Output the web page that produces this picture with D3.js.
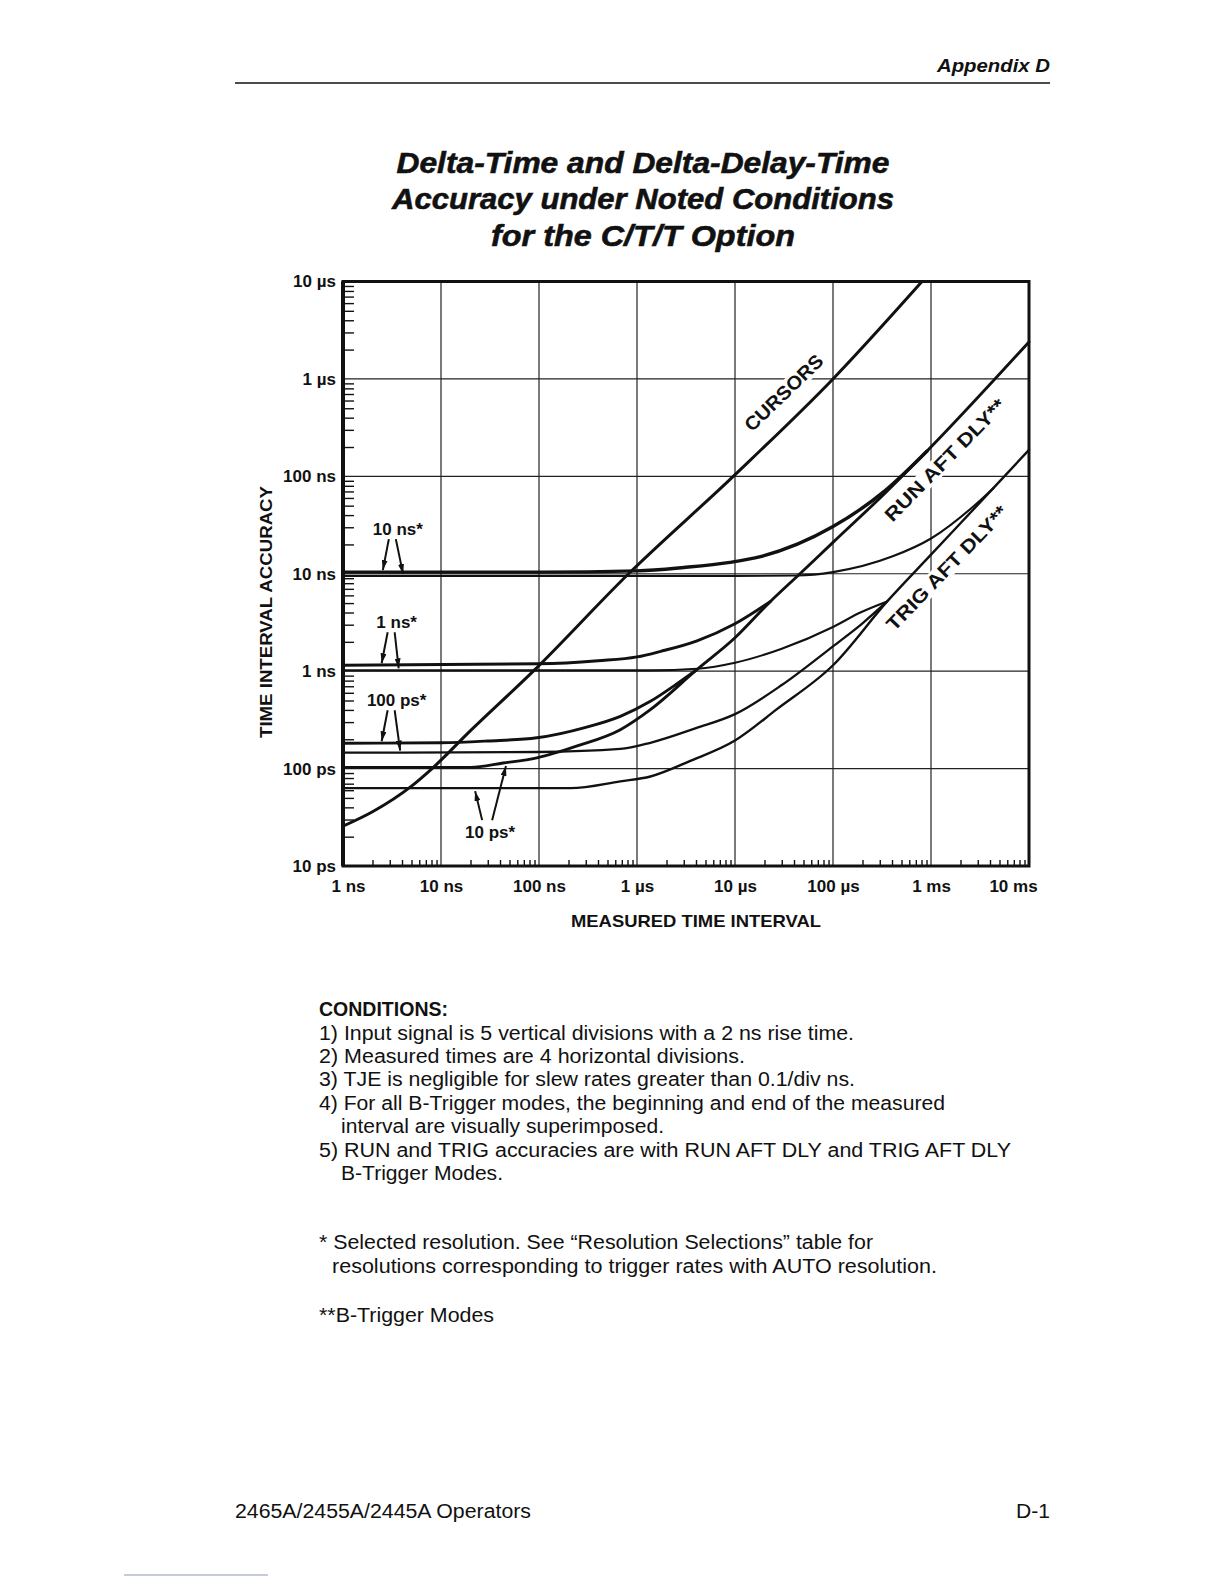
<!DOCTYPE html>
<html>
<head>
<meta charset="utf-8">
<script src="https://cdn.jsdelivr.net/npm/d3@7"></script>
<style>
body { margin: 0; background: #fff; }
svg { display: block; }
text { font-family: "Liberation Sans", Arial, Helvetica, sans-serif; fill: #111; }
</style>
</head>
<body>
<svg id="page" width="1224" height="1584"></svg>
<script>
// axis decades and labels
const xTicks = [1e-9, 1e-8, 1e-7, 1e-6, 1e-5, 1e-4, 1e-3, 1e-2];
const xTickLabels = ["1 ns", "10 ns", "100 ns", "1 µs", "10 µs", "100 µs", "1 ms", "10 ms"];
const yTicks = [1e-11, 1e-10, 1e-9, 1e-8, 1e-7, 1e-6, 1e-5];
const yTickLabels = ["10 ps", "100 ps", "1 ns", "10 ns", "100 ns", "1 µs", "10 µs"];

// curves: measured interval (s) -> accuracy (s)
const cursorsT = [1e-9, 2e-9, 5e-9, 8.1e-9, 20e-9, 87.5e-9, 820e-9, 9.6e-6, 100e-6, 810e-6];
const cursorsV = [25.6e-12, 36e-12, 66e-12, 100e-12, 245e-12, 1e-9, 10e-9, 100e-9, 1e-6, 10e-6];

// 10 ps resolution, RUN AFT DLY
const runT = [1e-9, 20e-9, 43e-9, 95e-9, 250e-9, 676e-9, 1.37e-6, 4.1e-6, 10e-6, 23e-6, 46e-6, 100e-6, 333e-6, 912e-6, 10e-3];
const runV = [103e-12, 103e-12, 114e-12, 129e-12, 172e-12, 251e-12, 403e-12, 1.04e-9, 2.2e-9, 5.2e-9, 10e-9, 21e-9, 66e-9, 182e-9, 2.4e-6];
// 10 ps resolution, TRIG AFT DLY
const trigT = [1e-9, 210e-9, 676e-9, 1.37e-6, 3.5e-6, 10e-6, 27e-6, 100e-6, 357e-6, 1e-3, 4.35e-3, 10e-3];
const trigV = [63e-12, 63e-12, 74e-12, 83e-12, 120e-12, 194e-12, 410e-12, 1.15e-9, 5.2e-9, 15.7e-9, 76e-9, 187e-9];

// 100 ps resolution
const ps100RunT = [1e-9, 10e-9, 30e-9, 95e-9, 300e-9, 676e-9, 1.37e-6, 2.5e-6, 4.1e-6];
const ps100RunV = [182e-12, 184e-12, 192e-12, 207e-12, 265e-12, 344e-12, 490e-12, 730e-12, 1.04e-9];
const ps100TrigT = [1e-9, 4e-9, 100e-9, 676e-9, 1.37e-6, 4e-6, 10e-6, 30e-6, 100e-6, 200e-6, 357e-6];
const ps100TrigV = [146e-12, 146e-12, 148e-12, 159e-12, 184e-12, 260e-12, 362e-12, 720e-12, 1.8e-9, 3.1e-9, 5.2e-9];

// 1 ns resolution
const ns1RunT = [1e-9, 100e-9, 400e-9, 1e-6, 1.75e-6, 4.1e-6, 10e-6, 23e-6];
const ns1RunV = [1.15e-9, 1.19e-9, 1.28e-9, 1.4e-9, 1.6e-9, 2.05e-9, 3.07e-9, 5.2e-9];
const ns1TrigT = [1e-9, 1.37e-6, 4.1e-6, 10e-6, 30e-6, 100e-6, 190e-6, 357e-6];
const ns1TrigV = [1.02e-9, 1.02e-9, 1.06e-9, 1.22e-9, 1.7e-9, 2.84e-9, 4.0e-9, 5.2e-9];

// 10 ns resolution
const ns10RunT = [1e-9, 100e-9, 1e-6, 3e-6, 8.9e-6, 18.2e-6, 100e-6, 333e-6, 912e-6];
const ns10RunV = [10.4e-9, 10.4e-9, 10.7e-9, 11.6e-9, 13.1e-9, 15e-9, 30.5e-9, 70e-9, 182e-9];
const ns10TrigT = [1e-9, 10e-6, 43e-6, 100e-6, 400e-6, 1e-3, 2.7e-3, 4.35e-3];
const ns10TrigV = [9.5e-9, 9.5e-9, 9.6e-9, 10.4e-9, 15e-9, 23e-9, 49e-9, 76e-9];

// curve labels (placed in data space)
const curveLabels = ["CURSORS", "RUN AFT DLY**", "TRIG AFT DLY**"];
const curveLabelT = [31.5e-6, 1.39e-3, 1.456e-3];
const curveLabelV = [720e-9, 147e-9, 11.45e-9];

// resolution call-outs: arrow tips sit on the curves
const noteLabels = ["10 ns*", "1 ns*", "100 ps*", "10 ps*"];
const noteTipT = [[2.55e-9, 4.1e-9], [2.48e-9, 3.7e-9], [2.48e-9, 3.83e-9], [22.3e-9, 46e-9]];
const noteTipV = [[10.4e-9, 9.5e-9], [1.15e-9, 1.02e-9], [182e-12, 146e-12], [63e-12, 114e-12]];

const conditionLines = [
    "1) Input signal is 5 vertical divisions with a 2 ns rise time.",
    "2) Measured times are 4 horizontal divisions.",
    "3) TJE is negligible for slew rates greater than 0.1/div ns.",
    "4) For all B-Trigger modes, the beginning and end of the measured",
    "interval are visually superimposed.",
    "5) RUN and TRIG accuracies are with RUN AFT DLY and TRIG AFT DLY",
    "B-Trigger Modes."
];
const footnoteLines = [
    "* Selected resolution. See \u201cResolution Selections\u201d table for",
    "resolutions corresponding to trigger rates with AUTO resolution.",
    "**B-Trigger Modes"
];

const svg = d3.select("#page");
svg.append("rect").attr("width", 1224).attr("height", 1584).attr("fill", "#fff");

const x = d3.scaleLog().domain([1e-9, 1e-2]).range([343, 1029]);
const y = d3.scaleLog().domain([1e-11, 1e-5]).range([866, 281.5]);
const [x0, x1] = x.range();
const [y0, y1] = y.range();

function addText(str, px, py, o = {}) {
    const t = (o.layer || svg).append("text")
        .attr("x", px).attr("y", py)
        .attr("font-size", o.size || 20)
        .attr("font-weight", o.bold ? "bold" : "normal")
        .attr("font-style", o.italic ? "italic" : "normal")
        .attr("text-anchor", o.anchor || "start")
        .attr("dominant-baseline", "central")
        .text(str);
    if (o.width) t.attr("textLength", o.width).attr("lengthAdjust", "spacingAndGlyphs");
    return t;
}

// page header
addText("Appendix D", 1050, 65, {size: 19, bold: true, italic: true, anchor: "end", width: 113});
svg.append("line").attr("x1", 235).attr("x2", 1050).attr("y1", 83).attr("y2", 83)
    .attr("stroke", "#111").attr("stroke-width", 1.6);

// title
const titleLines = ["Delta-Time and Delta-Delay-Time", "Accuracy under Noted Conditions", "for the C/T/T Option"];
const titleWidths = [493, 502, 304];
titleLines.forEach((s, i) => {
    addText(s, 643, 162 + i * 36.5, {size: 30, bold: true, italic: true, anchor: "middle", width: titleWidths[i]})
        .attr("stroke", "#111").attr("stroke-width", 0.6);
});

// layers: grid, label backing, curves, labels
const gridLayer = svg.append("g");
const backLayer = svg.append("g");
const curveLayer = svg.append("g");
const labelLayer = svg.append("g");

// decade grid
const grid = gridLayer.append("g").attr("stroke", "#222").attr("stroke-width", 1.2);
grid.selectAll(".gx").data(xTicks).enter().append("line")
    .attr("x1", d => x(d)).attr("x2", d => x(d)).attr("y1", y0).attr("y2", y1);
grid.selectAll(".gy").data(yTicks).enter().append("line")
    .attr("x1", x0).attr("x2", x1).attr("y1", d => y(d)).attr("y2", d => y(d));

// minor ticks, drawn inward
const minorX = [];
xTicks.slice(0, -1).forEach(d => { for (let k = 2; k < 10; k++) minorX.push(d * k); });
const minorY = [];
yTicks.slice(0, -1).forEach(d => { for (let k = 2; k < 10; k++) minorY.push(d * k); });

const bottomMinor = gridLayer.append("g").attr("transform", `translate(0,${y0})`)
    .call(d3.axisBottom(x).tickValues(minorX).tickSize(-6).tickFormat(""));
bottomMinor.select(".domain").remove();
bottomMinor.selectAll("line").attr("stroke", "#111").attr("stroke-width", 1.4);

const leftMinor = gridLayer.append("g").attr("transform", `translate(${x0},0)`)
    .call(d3.axisLeft(y).tickValues(minorY).tickSize(-11).tickFormat(""));
leftMinor.select(".domain").remove();
leftMinor.selectAll("line").attr("stroke", "#111").attr("stroke-width", 1.4);

// curves
const line = d3.line()
    .x(d => x(d[0]))
    .y(d => y(d[1]))
    .curve(d3.curveMonotoneX);

const series = [
    {t: ns10TrigT, v: ns10TrigV, w: 2.1},
    {t: ns1TrigT, v: ns1TrigV, w: 2.1},
    {t: ps100TrigT, v: ps100TrigV, w: 2.3},
    {t: trigT, v: trigV, w: 2.4},
    {t: ns10RunT, v: ns10RunV, w: 3.4},
    {t: ns1RunT, v: ns1RunV, w: 2.9},
    {t: ps100RunT, v: ps100RunV, w: 2.9},
    {t: runT, v: runV, w: 2.9},
    {t: cursorsT, v: cursorsV, w: 3}
];

curveLayer.selectAll("path")
    .data(series)
    .enter()
    .append("path")
    .attr("d", s => line(s.t.map((t, i) => [t, s.v[i]])))
    .attr("fill", "none")
    .attr("stroke", "#111")
    .attr("stroke-width", s => s.w)
    .attr("stroke-linecap", "round")
    .attr("stroke-linejoin", "round");

// labels along curves; a white box under them clears the grid
const curveAngles = [-44, -45.5, -46];
const curveWidths = [101, 163, 165];
curveLabels.forEach((s, i) => {
    const tf = `translate(${x(curveLabelT[i])},${y(curveLabelV[i])}) rotate(${curveAngles[i]})`;
    const t = addText(s, 0, 0, {layer: labelLayer, size: 19, bold: true, anchor: "middle", width: curveWidths[i]})
        .attr("transform", tf);
    const b = t.node().getBBox();
    backLayer.append("rect")
        .attr("x", b.x - 2).attr("y", b.y + 1)
        .attr("width", b.width + 4).attr("height", b.height - 2)
        .attr("fill", "#fff")
        .attr("transform", tf);
});

// plot frame
svg.append("rect")
    .attr("x", x0).attr("y", y1)
    .attr("width", x1 - x0).attr("height", y0 - y1)
    .attr("fill", "none").attr("stroke", "#111").attr("stroke-width", 3);
svg.append("line").attr("x1", x0).attr("x2", x0).attr("y1", y1).attr("y2", y0)
    .attr("stroke", "#111").attr("stroke-width", 4);

// call-out arrows
const defs = svg.append("defs");
defs.append("marker")
    .attr("id", "head")
    .attr("viewBox", "0 0 10 6")
    .attr("refX", 10).attr("refY", 3)
    .attr("markerWidth", 10).attr("markerHeight", 6)
    .attr("markerUnits", "userSpaceOnUse")
    .attr("orient", "auto")
    .append("path").attr("d", "M0,0 L10,3 L0,6 Z").attr("fill", "#111");

noteLabels.forEach((s, i) => {
    const below = i === 3;
    const tips = noteTipT[i].map((t, j) => [x(t), y(noteTipV[i][j]) + (below ? 3 : -2)]);
    let tails, tx, ty;
    if (below) {
        tails = [[tips[0][0] + 7, tips[0][1] + 29], [tips[0][0] + 17, tips[0][1] + 29]];
        tx = tips[0][0] + 15; ty = tips[0][1] + 41;
    } else {
        tails = [[tips[0][0] + 6, tips[0][1] - 31], [tips[0][0] + 13, tips[0][1] - 31]];
        tx = tips[0][0] + 15; ty = tips[0][1] - 41;
    }
    tips.forEach((p, j) => {
        svg.append("line")
            .attr("x1", tails[j][0]).attr("y1", tails[j][1])
            .attr("x2", p[0]).attr("y2", p[1])
            .attr("stroke", "#111").attr("stroke-width", 2)
            .attr("marker-end", "url(#head)");
    });
    addText(s, tx, ty, {size: 17, bold: true, anchor: "middle"});
});

// tick labels
const xLab = svg.append("g").attr("transform", `translate(0,${y0})`)
    .call(d3.axisBottom(x).tickValues(xTicks).tickSize(0).tickPadding(14)
        .tickFormat((d, i) => xTickLabels[i]));
xLab.select(".domain").remove();
xLab.selectAll("text")
    .attr("font-family", "Liberation Sans, Arial, sans-serif")
    .attr("font-size", 17).attr("font-weight", "bold").attr("fill", "#111")
    .attr("dx", (d, i) => i === 0 ? 5 : (i === xTicks.length - 1 ? -16 : 0));

const yLab = svg.append("g").attr("transform", `translate(${x0},0)`)
    .call(d3.axisLeft(y).tickValues(yTicks).tickSize(0).tickPadding(7)
        .tickFormat((d, i) => yTickLabels[i]));
yLab.select(".domain").remove();
yLab.selectAll("text")
    .attr("font-family", "Liberation Sans, Arial, sans-serif")
    .attr("font-size", 17).attr("font-weight", "bold").attr("fill", "#111");

// axis titles
addText("MEASURED TIME INTERVAL", 696, 921, {size: 17, bold: true, anchor: "middle", width: 250});
addText("TIME INTERVAL ACCURACY", 0, 0, {size: 17, bold: true, anchor: "middle", width: 252})
    .attr("transform", "translate(266,612) rotate(-90)");

// conditions block
addText("CONDITIONS:", 319, 1009, {size: 20, bold: true, width: 129});
const condWidths = [535, 426, 536, 626, 323, 692, 162];
const condIndent = [0, 0, 0, 0, 22, 0, 22];
conditionLines.forEach((s, i) => {
    addText(s, 319 + condIndent[i], 1032.5 + i * 23.4, {size: 20, width: condWidths[i]});
});

const footWidths = [554, 605, 175];
const footX = [319, 332, 319];
const footY = [1242, 1266, 1315];
footnoteLines.forEach((s, i) => {
    addText(s, footX[i], footY[i], {size: 20, width: footWidths[i]});
});

// page footer
addText("2465A/2455A/2445A Operators", 235, 1511, {size: 20, width: 296});
addText("D-1", 1050, 1511, {size: 20, anchor: "end", width: 34});
svg.append("line").attr("x1", 124).attr("x2", 268).attr("y1", 1575).attr("y2", 1575)
    .attr("stroke", "#8a96b4").attr("stroke-width", 1);
</script>
</body>
</html>
